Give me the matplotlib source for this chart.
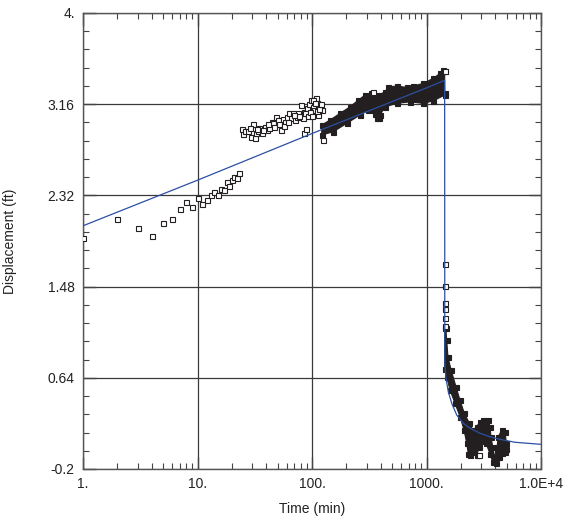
import numpy as np
import matplotlib
matplotlib.use("Agg")
import matplotlib.pyplot as plt
from matplotlib.ticker import FixedLocator, LogLocator, NullFormatter

plt.rcParams['font.family'] = ['Liberation Sans', 'DejaVu Sans']

# sparse readings: early pumping (min, ft)
early_t = [1, 2, 3, 4, 5, 6, 7, 8, 9, 10, 11, 12, 13, 14, 15, 16, 17, 18, 19, 20, 21, 22, 23]
early_d = [1.924, 2.10, 2.02, 1.948, 2.068, 2.10, 2.194, 2.259, 2.212, 2.295, 2.24, 2.277,
           2.32, 2.348, 2.323, 2.375, 2.372, 2.446, 2.406, 2.458, 2.486, 2.482, 2.528]

# sparse readings after the jump (24 - 122 min)
mid_t = [24.3, 25.1, 26.0, 27.8, 29.2, 30.3, 31.8, 32.4, 34.0, 34.7, 36.4, 38.9, 40.2, 42.4,
         44.5, 45.9, 48.5, 50.2, 51.8, 53.6, 55.5, 58.1, 60.1, 63.4, 65.6, 67.8, 71.1, 73.5,
         75.9, 79.6, 82.9, 85.1, 85.1, 88.6, 91.0, 94.7, 98.0, 101.4, 104.0, 108.3, 111.2,
         113.5, 117.4, 121.5, 28.5, 33.0, 37.5, 41.3, 47.0, 56.8, 62.0, 69.5, 77.5, 87.5,
         93.0, 96.0, 100.0, 103.0, 106.0, 110.0, 115.0, 119.0]
mid_d = [2.928, 2.885, 2.912, 2.915, 2.860, 2.974, 2.845, 2.897, 2.912, 2.937, 2.891, 2.946,
         2.922, 2.937, 2.998, 2.983, 3.044, 3.014, 2.974, 2.922, 3.020, 2.998, 3.044, 3.075,
         3.029, 3.081, 3.014, 3.044, 3.075, 3.152, 3.029, 3.090, 2.897, 2.928, 3.121, 3.161,
         3.198, 3.136, 3.106, 3.219, 3.167, 3.060, 3.136, 3.106, 2.94, 2.93, 2.92, 2.98,
         2.95, 2.96, 3.00, 3.06, 3.05, 3.08, 3.05, 3.09, 3.05, 3.20, 3.17, 3.10, 3.12, 3.16]

# isolated squares on / near the dense bands
iso_t = [125.5, 339, 1440, 1442, 1443, 1444, 1444.5, 1445, 1445.5, 2880]
iso_d = [2.83, 3.269, 3.465, 1.688, 1.488, 1.331, 1.273, 1.188, 1.12, -0.07]

# dense pumping readings (122 - 1440 min): edges of the data cloud
pump_top_t = [121.6, 143.6, 175.6, 214.7, 253.8, 290.3, 325.6, 379.3, 434.1, 463.8, 549.3,
              671.6, 766.9, 937.7, 1147, 1312, 1385, 1440, 1445]
pump_top_d = [2.968, 3.014, 3.075, 3.136, 3.198, 3.244, 3.265, 3.244, 3.274, 3.320, 3.327,
              3.315, 3.327, 3.352, 3.398, 3.444, 3.474, 3.468, 3.260]
pump_bot_t = [121.6, 153.5, 201, 262.6, 310.2, 341.0, 354.9, 367.4, 380.9, 392.6, 434.1,
              549.3, 717.8, 937.7, 1147, 1445]
pump_bot_d = [2.876, 2.906, 2.983, 3.060, 3.106, 3.106, 3.069, 3.029, 3.032, 3.060, 3.136,
              3.167, 3.182, 3.167, 3.191, 3.244]

# dense recovery readings (1440 - 5000 min): edges of the data cloud
rec_top_t = [1441, 1475, 1500, 1540, 1640, 1810, 1960, 2140, 2370, 2540, 2745, 2933, 3135,
             3465, 3586, 3659, 3786, 3930, 4100, 4238, 4538, 4849, 4990]
rec_top_d = [1.10, 1.10, 0.99, 0.83, 0.712, 0.558, 0.435, 0.313, 0.221, 0.159, 0.190,
             0.236, 0.251, 0.251, 0.190, 0.097, 0.005, -0.09, -0.02, 0.097, 0.159, 0.143, 0.037]
rec_bot_t = [1441, 1501, 1604, 1774, 1962, 2126, 2245, 2318, 2399, 2745, 2892, 3052, 3300,
             3586, 3800, 4046, 4255, 4538, 4849, 4990]
rec_bot_d = [0.72, 0.650, 0.527, 0.405, 0.282, 0.159, 0.037, -0.06, -0.075, -0.075, 0.005,
             0.058, 0.04, -0.06, -0.14, -0.145, -0.09, -0.05, -0.04, -0.02]

# fitted curve
fit_t = [1, 10, 100, 1000, 1440, 1445, 1460, 1480, 1550, 1660, 1836, 2097, 2399, 2933,
         3586, 4385, 5929, 10000]
fit_d = [2.04, 2.46, 2.89, 3.31, 3.38, 0.80, 0.70, 0.635, 0.512, 0.405, 0.297, 0.221, 0.175,
         0.129, 0.097, 0.073, 0.046, 0.027]

ytick_vals = [-0.2, 0.64, 1.48, 2.32, 3.16, 4.0]
ytick_labels = ['-0.2', '0.64', '1.48', '2.32', '3.16', '4.']
xtick_vals = [1, 10, 100, 1000, 10000]
xtick_labels = ['1.', '10.', '100.', '1000.', '1.0E+4']

fig = plt.figure(figsize=(5.69, 5.26), dpi=100)
ax = fig.add_axes([0.1459, 0.1084, 0.8049, 0.8669])

ax.set_xscale('log')
ax.set_xlim(1, 10000)
ax.set_ylim(-0.2, 4.0)

dark = '#231f20'
sq = dict(ls='none', marker='s', ms=3.6, mfc='white', mec=dark, mew=0.8, zorder=4)

# dense clouds: filled between their edges, with the edge readings drawn as squares
for top_t, top_d, bot_t, bot_d in [(pump_top_t, pump_top_d, pump_bot_t, pump_bot_d),
                                   (rec_top_t, rec_top_d, rec_bot_t, rec_bot_d)]:
    ax.fill(np.concatenate([top_t, bot_t[::-1]]), np.concatenate([top_d, bot_d[::-1]]),
            color=dark, lw=0.8, zorder=3)
    ax.plot(top_t, top_d, **dict(sq, mfc=dark))
    ax.plot(bot_t, bot_d, **dict(sq, mfc=dark))

ax.plot(early_t, early_d, **sq)
ax.plot(mid_t, mid_d, **sq)
ax.plot(iso_t, iso_d, **sq)

ax.plot(fit_t, fit_d, color='#2c4fa3', lw=0.9, zorder=5)

# ticks and grid
ax.xaxis.set_major_locator(FixedLocator(xtick_vals))
ax.set_xticklabels(xtick_labels)
ax.xaxis.set_minor_locator(LogLocator(base=10, subs=np.arange(2, 10)))
ax.xaxis.set_minor_formatter(NullFormatter())
ax.yaxis.set_major_locator(FixedLocator(ytick_vals))
ax.set_yticklabels(ytick_labels)
ax.yaxis.set_minor_locator(FixedLocator(np.linspace(-0.2, 4.0, 26)))

ax.tick_params(which='both', direction='in', top=True, right=True, colors='#444444',
               labelcolor='#222222', labelsize=10)
ax.tick_params(which='major', length=9, width=1.0, pad=6)
ax.tick_params(which='minor', length=4.5, width=0.8)
ax.grid(True, which='major', color='#3a3a3a', lw=0.9)
ax.set_axisbelow(True)
for s in ax.spines.values():
    s.set_color('#555555')
    s.set_linewidth(1.0)

ax.set_xlabel('Time (min)', fontsize=10, color='#222222')
ax.set_ylabel('Displacement (ft)', fontsize=10, color='#222222')
ax.xaxis.set_label_coords(0.5, -0.072)
ax.yaxis.set_label_coords(-0.144, 0.5)

fig.savefig('out.png', dpi=100)
